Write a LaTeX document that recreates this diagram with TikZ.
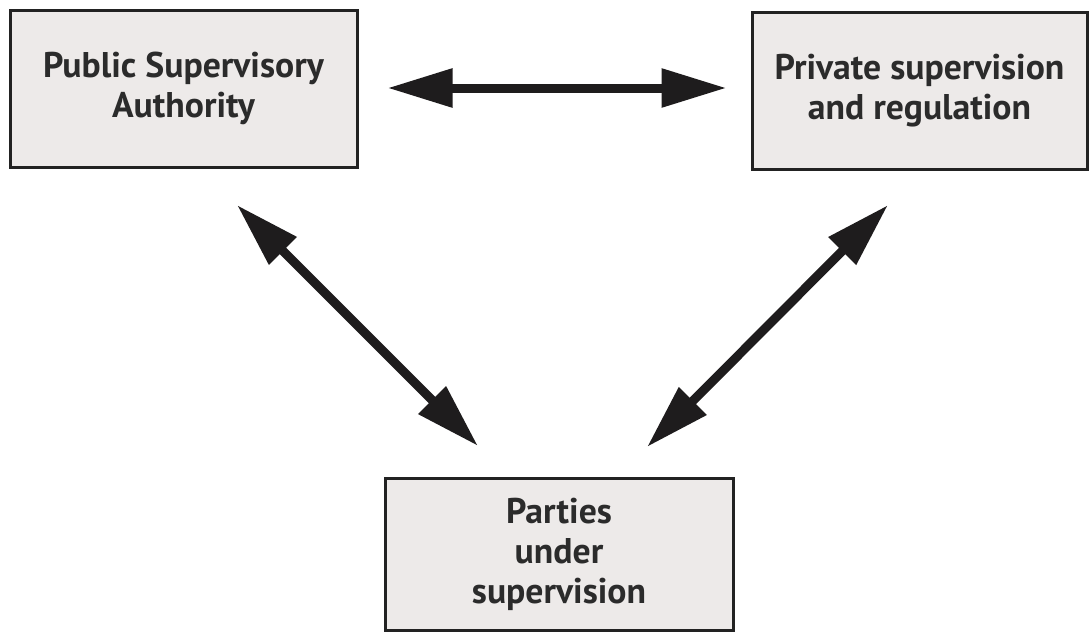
\documentclass[tikz,border=0pt]{standalone}
\usepackage{fontspec}
\setmainfont{PT Sans}
\usetikzlibrary{arrows.meta}
\definecolor{boxfill}{HTML}{EDEAE9}
\definecolor{boxline}{HTML}{222222}
\definecolor{txt}{HTML}{2B2B2B}
\definecolor{arr}{HTML}{1E1C1D}
\tikzset{
  panel/.style={draw=boxline, line width=3pt, fill=boxfill, inner sep=0pt,
    align=center, text=txt, font=\fontsize{35.7}{40}\selectfont\bfseries},
  link/.style={draw=arr, line width=9pt,
    {Triangle[length=65pt,width=37pt]}-{Triangle[length=65pt,width=37pt]}}
}
\begin{document}
\begin{tikzpicture}[x=1pt,y=-1pt]
\useasboundingbox (0,0) rectangle (1089,632);
\node[panel, minimum width=347pt, minimum height=157pt] (A) at (183.5,88.5)
  {Public Supervisory\\Authority};
\node[panel, minimum width=335pt, minimum height=157pt] (B) at (919.5,90.5)
  {Private supervision\\and regulation};
\node[panel, minimum width=348pt, minimum height=152pt] (C) at (559,554)
  {Parties\\under\\supervision};
\coordinate (a1) at (237,205);
\coordinate (a2) at (478,446);
\coordinate (b1) at (888,205);
\coordinate (b2) at (647,447);
\draw[link, shorten <=29pt, shorten >=24pt] (A.east |- 0,88) -- (B.west |- 0,88);
\draw[link] (a1) -- (a2);
\draw[link] (b1) -- (b2);
\end{tikzpicture}
\end{document}
